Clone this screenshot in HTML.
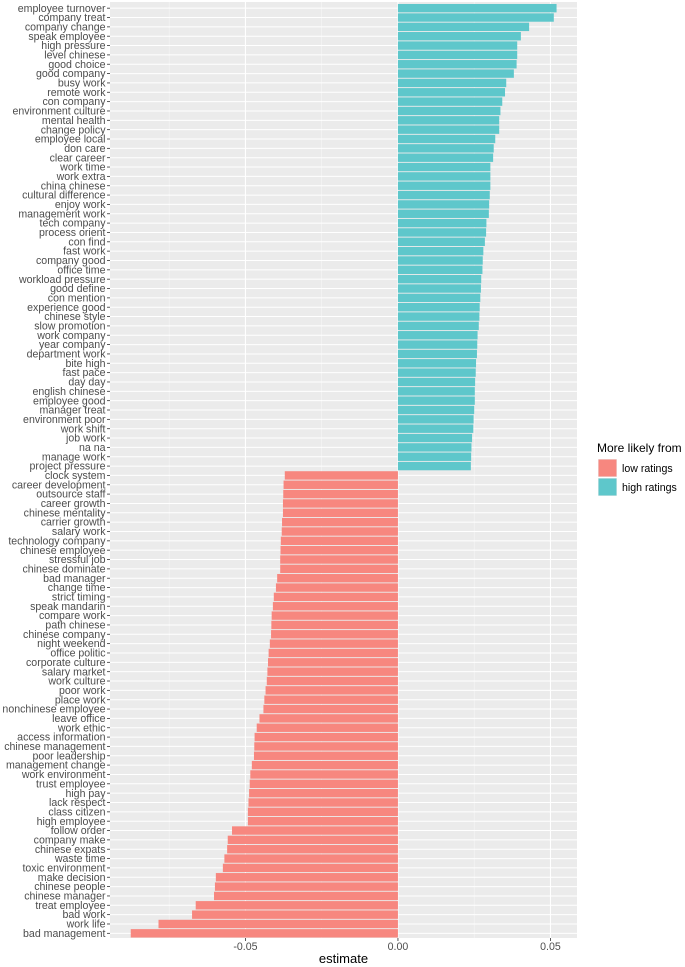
<!DOCTYPE html>
<html><head><meta charset="utf-8"><style>
html,body{margin:0;padding:0;background:#fff;}
svg{display:block;font-family:"Liberation Sans",sans-serif;}
</style></head><body>
<svg id="chart" width="685" height="967"></svg>
<script>
const categories = ["employee turnover","company treat","company change","speak employee","high pressure","level chinese","good choice","good company","busy work","remote work","con company","environment culture","mental health","change policy","employee local","don care","clear career","work time","work extra","china chinese","cultural difference","enjoy work","management work","tech company","process orient","con find","fast work","company good","office time","workload pressure","good define","con mention","experience good","chinese style","slow promotion","work company","year company","department work","bite high","fast pace","day day","english chinese","employee good","manager treat","environment poor","work shift","job work","na na","manage work","project pressure",
"clock system","career development","outsource staff","career growth","chinese mentality","carrier growth","salary work","technology company","chinese employee","stressful job","chinese dominate","bad manager","change time","strict timing","speak mandarin","compare work","path chinese","chinese company","night weekend","office politic","corporate culture","salary market","work culture","poor work","place work","nonchinese employee","leave office","work ethic","access information","chinese management","poor leadership","management change","work environment","trust employee","high pay","lack respect","class citizen","high employee","follow order","company make","chinese expats","waste time","toxic environment","make decision","chinese people","chinese manager","treat employee","bad work","work life","bad management"];
const estimates = [0.0520,0.0511,0.0430,0.0403,0.0391,0.0391,0.0389,0.0380,0.0355,0.0351,0.0342,0.0336,0.0332,0.0332,0.0319,0.0314,0.0312,0.0303,0.0303,0.0303,0.0301,0.0299,0.0298,0.0290,0.0289,0.0285,0.0280,0.0278,0.0277,0.0273,0.0272,0.0270,0.0268,0.0267,0.0265,0.0261,0.0260,0.0259,0.0256,0.0255,0.0253,0.0252,0.0252,0.0250,0.0248,0.0247,0.0243,0.0241,0.0240,0.0239,
-0.0371,-0.0375,-0.0376,-0.0377,-0.0377,-0.0380,-0.0381,-0.0384,-0.0385,-0.0386,-0.0386,-0.0396,-0.0400,-0.0407,-0.0410,-0.0414,-0.0415,-0.0416,-0.0420,-0.0424,-0.0426,-0.0428,-0.0430,-0.0434,-0.0438,-0.0441,-0.0454,-0.0463,-0.0470,-0.0471,-0.0472,-0.0479,-0.0484,-0.0486,-0.0488,-0.0490,-0.0492,-0.0492,-0.0544,-0.0558,-0.0560,-0.0569,-0.0574,-0.0597,-0.0600,-0.0603,-0.0663,-0.0675,-0.0785,-0.0876];
const majorTicks = [-0.05, 0, 0.05];
const tickLabels = ["-0.05","0.00","0.05"];
const minorTicks = [-0.075, -0.025, 0.025];

const NS="http://www.w3.org/2000/svg";
const svg=document.getElementById('chart');
const L=110,R=577,T=3.5,B=938;
const xMin=-0.0944,xMax=0.0587;
const x=v=>L+(v-xMin)/(xMax-xMin)*(R-L);
const step=(B-T)/categories.length;
const yC=i=>T+step*(i+0.5);
function mk(tag,attrs,parent){const e=document.createElementNS(NS,tag);for(const k in attrs)e.setAttribute(k,attrs[k]);(parent||svg).appendChild(e);return e;}

const bg=mk('rect',{x:L,y:T-1.5,width:R-L,height:B-T+1.5,fill:'#ebebeb'});


minorTicks.forEach(t=>{const l=mk('line',{x1:x(t),x2:x(t),y1:T-1.5,y2:B,stroke:'#f7f7f7','stroke-width':0.6});

});
categories.forEach((c,i)=>{const l=mk('line',{x1:L,x2:R,y1:yC(i),y2:yC(i),stroke:'#fff','stroke-width':1});

});
majorTicks.forEach(t=>{const l=mk('line',{x1:x(t),x2:x(t),y1:T-1.5,y2:B,stroke:'#fff','stroke-width':1.1});

});

const bh=step*0.9;
categories.forEach((c,i)=>{
  const v=estimates[i];
  const r=mk('rect',{x:Math.min(x(0),x(v)),y:yC(i)-bh/2,width:Math.abs(x(v)-x(0)),height:bh,fill:v<0?'#f7877f':'#5ec7cb'});
  
  
  const tk=mk('line',{x1:L-3,x2:L,y1:yC(i),y2:yC(i),stroke:'#333','stroke-width':0.8});
  
  
  const t=mk('text',{x:L-4.5,y:yC(i)+3.6,'text-anchor':'end','font-size':'10.6',fill:'#4d4d4d'});
  t.textContent=c;
  
  
});
majorTicks.forEach((t,i)=>{
  const tk=mk('line',{x1:x(t),x2:x(t),y1:B,y2:B+3,stroke:'#333','stroke-width':0.8});
  
  
  const tx=mk('text',{x:x(t),y:B+12,'text-anchor':'middle','font-size':'10.6',fill:'#4d4d4d'});
  tx.textContent=tickLabels[i];
  
  
});
const xt=mk('text',{x:(L+R)/2,y:963,'text-anchor':'middle','font-size':'13',fill:'#000'});
xt.textContent='estimate';



const lt=mk('text',{x:597,y:452,'font-size':'12',fill:'#000'});
lt.textContent='More likely from';


[['low ratings','#f7877f'],['high ratings','#5ec7cb']].forEach((d,i)=>{
  const g=mk('g',{});
  
  
  mk('rect',{x:598,y:459+i*19,width:19,height:18,fill:'#ebebeb'},g);
  mk('rect',{x:598.5,y:459.5+i*19,width:18,height:17,fill:d[1]},g);
  const t=mk('text',{x:622,y:472+i*19,'font-size':'10.6',fill:'#000'},g);
  t.textContent=d[0];
});
</script>
</body></html>
